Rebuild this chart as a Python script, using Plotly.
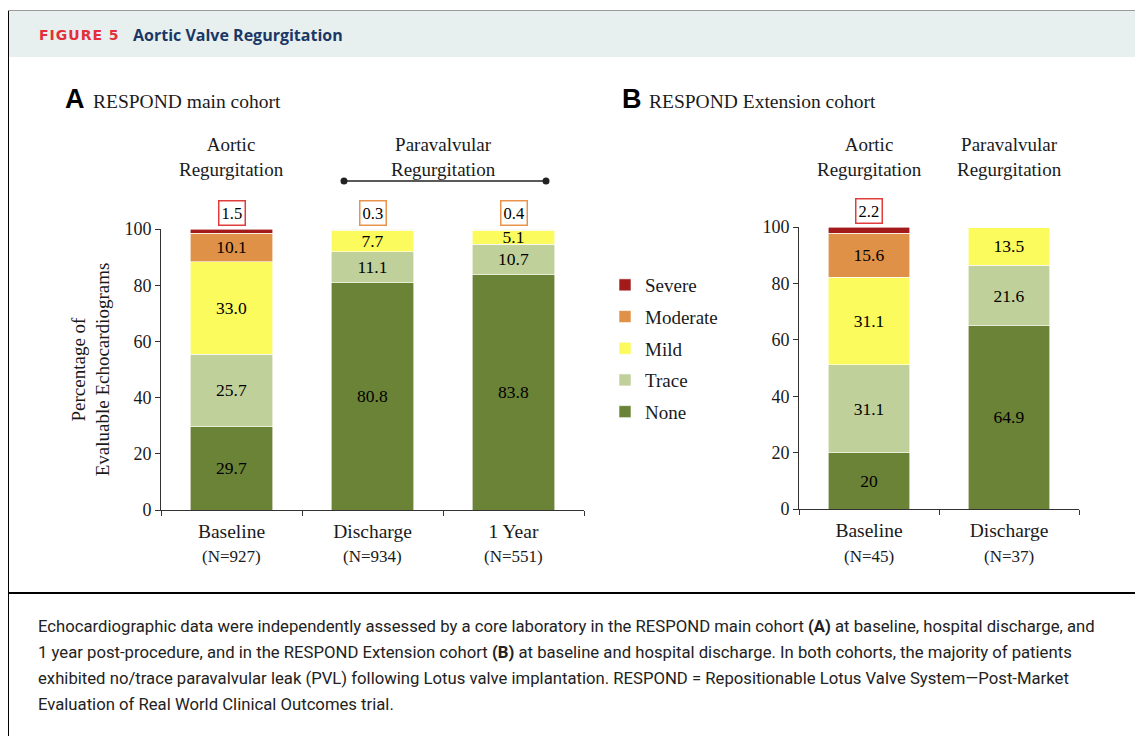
import plotly.graph_objects as go

W, H = 1143, 736
OFF = 8  # page body margin offset
SERIF = "Liberation Serif"
SANS = "Liberation Sans"

# ---------------- data ----------------
levels = ["None", "Trace", "Mild", "Moderate", "Severe"]

a_categories = ["Baseline", "Discharge", "1 Year"]
a_counts = ["(N=927)", "(N=934)", "(N=551)"]
a_none = [29.7, 80.8, 83.8]
a_trace = [25.7, 11.1, 10.7]
a_mild = [33.0, 7.7, 5.1]
a_moderate = [10.1, 0.3, 0.4]
a_severe = [1.5, 0, 0]

b_categories = ["Baseline", "Discharge"]
b_counts = ["(N=45)", "(N=37)"]
b_none = [20, 64.9]
b_trace = [31.1, 21.6]
b_mild = [31.1, 13.5]
b_moderate = [15.6, 0]
b_severe = [2.2, 0]

y_ticks = [0, 20, 40, 60, 80, 100]

# ---------------- style ----------------
colors = {"None": "#6b8337", "Trace": "#c0d09a", "Mild": "#fbfb5e",
          "Moderate": "#df9147", "Severe": "#a31a1a"}
box_colors = {"Moderate": "#e8944f", "Severe": "#e03c3c"}
legend_rank = {"Severe": 1, "Moderate": 2, "Mild": 3, "Trace": 4, "None": 5}
INK = "#1a1a1a"


def px(x):
    return (x - OFF) / W


def py(y):
    return 1 - (y - OFF) / H


panels = [
    dict(cats=a_categories, counts=a_counts,
         vals=[a_none, a_trace, a_mild, a_moderate, a_severe],
         xa="x", ya="y", legend=True),
    dict(cats=b_categories, counts=b_counts,
         vals=[b_none, b_trace, b_mild, b_moderate, b_severe],
         xa="x2", ya="y2", legend=False),
]

fig = go.Figure()
annotations = []

for p in panels:
    for lvl, vals in zip(levels, p["vals"]):
        fig.add_trace(go.Bar(
            x=p["cats"], y=vals, name=lvl, legendgroup=lvl,
            legendrank=legend_rank[lvl],
            showlegend=p["legend"], xaxis=p["xa"], yaxis=p["ya"],
            width=0.585,
            marker=dict(color=colors[lvl], line=dict(color="white", width=0.6)),
            text=[str(v) if v >= 5 else "" for v in vals],
            textposition="inside", insidetextanchor="middle",
            constraintext="none", textangle=0,
            textfont=dict(family=SERIF, size=17.5, color="black"),
            hoverinfo="skip",
        ))
        # boxed labels for small segments
        for c, v in zip(p["cats"], vals):
            if 0 < v < 5:
                annotations.append(dict(
                    x=c, y=100, xref=p["xa"], yref=p["ya"], text=str(v),
                    showarrow=False, yanchor="bottom", yshift=3,
                    font=dict(family=SERIF, size=16.5, color="black"),
                    bordercolor=box_colors[lvl], borderwidth=1.5, borderpad=2,
                    bgcolor="white"))
    for c, n in zip(p["cats"], p["counts"]):
        annotations.append(dict(
            x=c, y=py(556), xref=p["xa"], yref="paper", text=n,
            showarrow=False, yanchor="middle",
            font=dict(family=SERIF, size=17, color=INK)))

axis_common = dict(showline=True, linecolor="#333", linewidth=1,
                   ticks="outside", ticklen=5, tickcolor="#333",
                   showgrid=False, zeroline=False, automargin=False)

fig.update_layout(
    width=W, height=H,
    margin=dict(l=0, r=0, t=0, b=0, autoexpand=False),
    paper_bgcolor="white", plot_bgcolor="white",
    barmode="stack",
    xaxis=dict(domain=[px(161), px(584)], anchor="y", type="category",
               range=[-0.5, 2.5], tickson="boundaries", ticklabelstandoff=4,
               tickfont=dict(family=SERIF, size=19.5, color=INK), **axis_common),
    yaxis=dict(domain=[py(510), py(229)], anchor="x", range=[0, 100],
               tickvals=y_ticks,
               tickfont=dict(family=SERIF, size=18, color=INK),
               title=dict(text="Percentage of<br>Evaluable Echocardiograms",
                          font=dict(family=SERIF, size=19, color=INK),
                          standoff=9),
               **axis_common),
    xaxis2=dict(domain=[px(799), px(1079)], anchor="y2", type="category",
                range=[-0.5, 1.5], tickson="boundaries", ticklabelstandoff=4,
                tickfont=dict(family=SERIF, size=19.5, color=INK), **axis_common),
    yaxis2=dict(domain=[py(509), py(227)], anchor="x2", range=[0, 100],
                tickvals=y_ticks,
                tickfont=dict(family=SERIF, size=18, color=INK),
                **axis_common),
    legend=dict(x=px(605), y=py(266), xanchor="left", yanchor="top",
                traceorder="grouped", tracegroupgap=4,
                font=dict(family=SERIF, size=19, color=INK),
                bgcolor="rgba(0,0,0,0)"),
    showlegend=True,
)

# header / frame
shapes = [
    dict(type="rect", xref="paper", yref="paper", x0=px(8), x1=px(1137),
         y0=py(57), y1=py(11), fillcolor="#e8f0ef", line=dict(width=0), layer="below"),
    dict(type="line", xref="paper", yref="paper", x0=px(7), x1=px(1138),
         y0=py(10.5), y1=py(10.5), line=dict(color="#9a9a9a", width=1)),
    dict(type="line", xref="paper", yref="paper", x0=px(8), x1=px(8),
         y0=py(11), y1=py(744), line=dict(color="black", width=2)),
    dict(type="line", xref="paper", yref="paper", x0=px(1137), x1=px(1137),
         y0=py(11), y1=py(744), line=dict(color="black", width=2)),
    dict(type="line", xref="paper", yref="paper", x0=px(8), x1=px(1137),
         y0=py(593), y1=py(593), line=dict(color="black", width=2)),
    # bracket for paravalvular (panel A)
    dict(type="line", xref="paper", yref="paper", x0=px(344), x1=px(546),
         y0=py(181), y1=py(181), line=dict(color="#222", width=1.5)),
    dict(type="circle", xref="paper", yref="paper", x0=px(340.5), x1=px(347.5),
         y0=py(184.5), y1=py(177.5), fillcolor="#222", line=dict(width=0)),
    dict(type="circle", xref="paper", yref="paper", x0=px(542.5), x1=px(549.5),
         y0=py(184.5), y1=py(177.5), fillcolor="#222", line=dict(width=0)),
]


def text_ann(x, y, text, font, xanchor="left", xref="paper"):
    return dict(x=x, y=py(y), xref=xref, yref="paper", text=text,
                showarrow=False, xanchor=xanchor, yanchor="middle", font=font)


annotations += [
    text_ann(px(37), 35, "<span style='letter-spacing:1px'>FIGURE 5</span>",
             dict(family="DejaVu Sans", size=14, color="#e32f3a", weight="bold")),
    text_ann(px(131), 35, "Aortic Valve Regurgitation",
             dict(family="Open Sans", size=16, color="#1b3766", weight="bold")),
    text_ann(px(63), 99, "A", dict(family=SANS, size=27, color="black", weight="bold")),
    text_ann(px(91), 101, "RESPOND main cohort", dict(family=SERIF, size=19.5, color=INK)),
    text_ann(px(620), 99, "B", dict(family=SANS, size=27, color="black", weight="bold")),
    text_ann(px(647), 101, "RESPOND Extension cohort", dict(family=SERIF, size=19.5, color=INK)),
]

group_font = dict(family=SERIF, size=19, color=INK)
for xref, xpos in [("x", 0), ("x", 1.5), ("x2", 0), ("x2", 1)]:
    first = "Aortic" if xpos == 0 else "Paravalvular"
    annotations.append(text_ann(xpos, 157, first + "<br>Regurgitation",
                                group_font, xanchor="center", xref=xref))

caption = [
    "Echocardiographic data were independently assessed by a core laboratory in the RESPOND main cohort <b>(A)</b> at baseline, hospital discharge, and",
    "1 year post-procedure, and in the RESPOND Extension cohort <b>(B)</b> at baseline and hospital discharge. In both cohorts, the majority of patients",
    "exhibited no/trace paravalvular leak (PVL) following Lotus valve implantation. RESPOND = Repositionable Lotus Valve System\u2014Post-Market",
    "Evaluation of Real World Clinical Outcomes trial.",
]
cap_font = dict(family="Roboto", size=16.7, color="#222")
for i, line in enumerate(caption):
    annotations.append(text_ann(px(36), 626 + 26 * i, line, cap_font))

fig.update_layout(shapes=shapes, annotations=annotations)
fig.write_html("out.html")
